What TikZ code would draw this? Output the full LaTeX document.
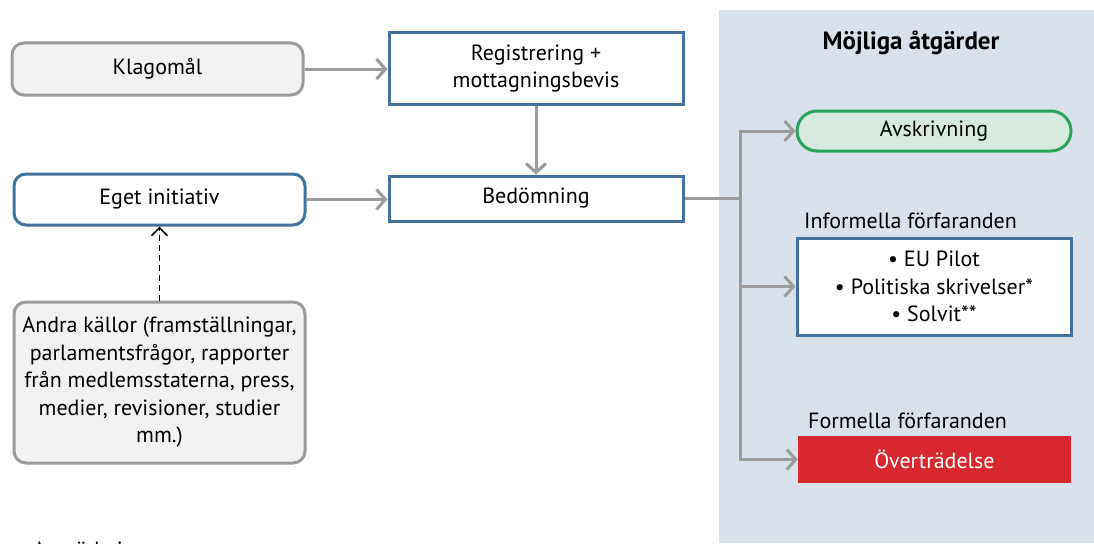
\documentclass[tikz,border=0pt]{standalone}
\usepackage{fontspec}
\setmainfont{PT Sans}
\usetikzlibrary{arrows.meta}
\definecolor{lgray}{HTML}{9B9B9B}
\definecolor{boxgray}{HTML}{F2F2F2}
\definecolor{bblue}{HTML}{41719C}
\definecolor{panel}{HTML}{D9E2EB}
\definecolor{ggreen}{HTML}{2CA25F}
\definecolor{gfill}{HTML}{D6EADF}
\definecolor{rred}{HTML}{D7282F}
\tikzset{
  txt/.style={font=\fontsize{22}{27.5}\selectfont, align=center, inner sep=0pt},
  graybox/.style={txt, draw=lgray, fill=boxgray, line width=3pt, rounded corners=12pt},
  bluebox/.style={txt, draw=bblue, fill=white, line width=3pt},
  conn/.style={draw=lgray, line width=3pt},
  tipped/.style={conn, -{Straight Barb[length=9pt,width=20pt,line width=3pt]}},
  dashconn/.style={draw=black, line width=1.6pt, dash pattern=on 6pt off 4pt, -{Straight Barb[length=8pt,width=16pt,line width=1.6pt]}}
}
\begin{document}
\begin{tikzpicture}[x=1pt,y=-1pt]
\useasboundingbox (0,0) rectangle (1094,543);
\clip (0,0) rectangle (1094,543);
\fill[white] (0,0) rectangle (1094,543);
\fill[panel] (719,10) rectangle (1094,543);
\node[txt, font=\fontsize{25}{30}\selectfont\bfseries] (title) at (911,43) {Möjliga åtgärder};

\node[graybox, minimum width=291pt, minimum height=52pt] (klag) at (157.5,69) {Klagomål};
\node[bluebox, minimum width=294pt, minimum height=71pt] (reg) at (536,68.5) {Registrering +\\mottagningsbevis};
\node[bluebox, rounded corners=12pt, minimum width=291pt, minimum height=51pt] (eget) at (159.5,199.5) {Eget initiativ};
\node[bluebox, minimum width=294pt, minimum height=45pt] (bed) at (536,198.5) {Bedömning};
\node[graybox, minimum width=291pt, minimum height=161pt] (andra) at (159.5,382.5) {Andra källor (framställningar,\\parlamentsfrågor, rapporter\\från medlemsstaterna, press,\\medier, revisioner, studier\\mm.)};

\node[txt, draw=ggreen, fill=gfill, line width=3pt, rounded corners=20pt, minimum width=274pt, minimum height=40pt] (avs) at (934,131) {Avskrivning};
\node[txt, anchor=west] (inflab) at (804,221) {Informella förfaranden};
\node[bluebox, minimum width=274pt, minimum height=97pt] (inf) at (934,286.5) {\textbullet\ EU Pilot\\\textbullet\ Politiska skrivelser*\\\textbullet\ Solvit**};
\node[txt, anchor=west] (formlab) at (808,421) {Formella förfaranden};
\node[txt, fill=rred, text=white, minimum width=273pt, minimum height=47pt] (ov) at (934.5,459.5) {Överträdelse};

\node[txt, anchor=base west] (anm) at (33,557) {Anmärkning:};

\coordinate (jm) at (740,198.5);
\draw[tipped] (klag.east) -- (reg.west |- klag.east);
\draw[tipped] (reg.south) -- (bed.north);
\draw[tipped] (eget.east) -- (bed.west |- eget.east);
\draw[conn] (bed.east) -- (jm);
\draw[tipped] (jm) |- (avs.west);
\draw[tipped] (jm) |- (inf.west);
\draw[tipped] (jm) |- (ov.west);
\draw[dashconn] (andra.north) -- (eget.south);
\end{tikzpicture}
\end{document}
